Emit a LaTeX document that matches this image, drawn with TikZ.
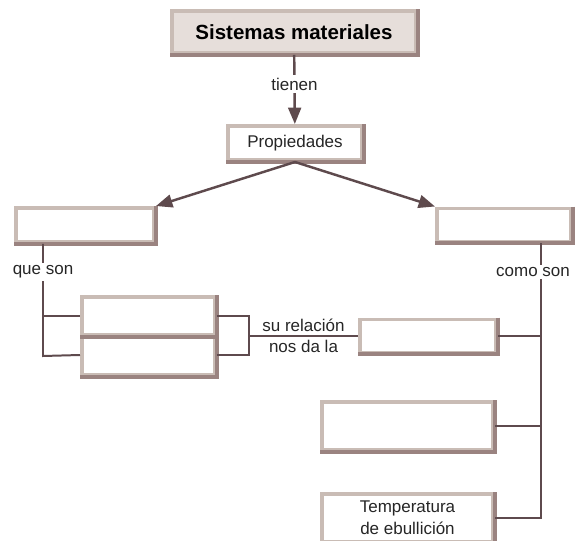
\documentclass[tikz,border=0pt]{standalone}
\usepackage{fontspec}
\setmainfont{Liberation Sans}
\usepackage{xcolor}
\usetikzlibrary{arrows.meta,positioning,calc}

\definecolor{lite}{HTML}{C9BCB5}
\definecolor{dark}{HTML}{9A8380}
\definecolor{wire}{HTML}{5E4A4D}
\definecolor{ttlfill}{HTML}{E6DEDA}

\begin{document}
\begin{tikzpicture}[
  x=0.03cm, y=-0.03cm,
  bx/.style={draw=lite, line width=3.4pt, fill=white, inner sep=0pt, align=center, text=black!85, font=\fontsize{14.5}{19}\selectfont},
  ttlbx/.style={bx, fill=ttlfill, font=\fontsize{17.5}{21}\selectfont\bfseries, text=black},
  lbl/.style={fill=white, inner sep=2pt, text=black!85, font=\fontsize{14.5}{17}\selectfont},
  ln/.style={draw=wire, line width=1.7pt},
  arr/.style={-{Triangle[length=14pt, width=11pt]}, draw=wire, fill=wire, line width=2.1pt}]
\useasboundingbox (0,0) rectangle (575,541);
% boxes
\node[ttlbx, minimum width=7.32cm, minimum height=1.26cm] (ttl) at (294,32) {Sistemas materiales};
\node[bx, minimum width=4.02cm, minimum height=1.02cm] (prop) at (295,143) {Propiedades};
\node[bx, minimum width=4.14cm, minimum height=1.02cm] (lft) at (85,225) {};
\node[bx, minimum width=4.02cm, minimum height=0.99cm] (rgt) at (504,225) {};
\node[bx, minimum width=3.99cm, minimum height=1.2cm] (lo) at (148.5,355) {};
\node[bx, minimum width=3.99cm, minimum height=1.14cm] (up) at (148.5,316) {};
\node[bx, minimum width=4.08cm, minimum height=0.99cm] (rel) at (428,336) {};
\node[bx, minimum width=5.13cm, minimum height=1.44cm] (b4) at (407.5,426) {};
\node[bx, minimum width=5.13cm, minimum height=1.44cm] (b5) at (407.5,518) {Temperatura\\de ebullición};
% dark bevel on the lower right edges
\foreach \n in {ttl,prop,lft,rgt,lo,up,rel,b4,b5}
  \draw[draw=dark, line width=3.4pt] (\n.north east) -- (\n.south east) -- (\n.south west);
% joints
\coordinate (jl) at (43,356);
\coordinate (jm) at (249,336);
\coordinate (jr) at (541,518);
% connectors
\draw[arr] (ttl) -- node[lbl, pos=0.42]{tienen} (prop);
\draw[arr] (prop.south) -- (lft.north east);
\draw[arr] (prop.south) -- (rgt.north west);
\draw[ln] (lft.south -| jl) -- node[lbl, pos=0.25]{que son} (jl) -- (lo.west);
\draw[ln] (jl |- up.west) -- (up.west);
\draw[ln] (up.east) -| (jm) |- (lo.east);
\draw[ln] (jm) -- node[lbl, above=1pt, fill=none]{su relación} node[lbl, below=1pt, fill=none]{nos da la} (rel.west);
\draw[ln] (rgt.south -| jr) -- node[lbl, pos=0.105, xshift=-0.24cm]{como son} (jr) -- (b5.east);
\draw[ln] (jr |- rel.east) -- (rel.east);
\draw[ln] (jr |- b4.east) -- (b4.east);
\end{tikzpicture}
\end{document}
